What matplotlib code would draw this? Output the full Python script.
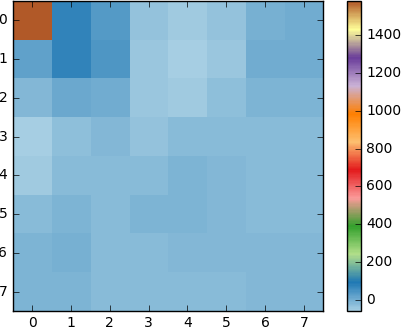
import numpy as np
import matplotlib
matplotlib.use("Agg")
import matplotlib.pyplot as plt
from matplotlib.colors import LinearSegmentedColormap

# values (row by row)
row0 = [1580, 76, 37, -33, -50, -33, -4, 3]
row1 = [22, 76, 42, -39, -58, -40, 3, 3]
row2 = [-19, 9, 3, -40, -50, -30, -10, -10]
row3 = [-58, -30, -16, -36, -24, -20, -20, -20]
row4 = [-50, -24, -20, -22, -7, -16, -22, -22]
row5 = [-22, -10, -20, -13, -7, -16, -22, -22]
row6 = [-7, -2, -20, -20, -16, -16, -16, -16]
row7 = [-10, -10, -20, -20, -22, -22, -16, -16]
cbar_ticks = [0, 200, 400, 600, 800, 1000, 1200, 1400]

data = np.array([row0, row1, row2, row3, row4, row5, row6, row7])

plt.style.use('classic')
plt.rcParams['font.size'] = 10

cmap = LinearSegmentedColormap.from_list('paired_smooth', plt.cm.Paired.colors, N=256)

fig = plt.figure(figsize=(4.01, 3.28), dpi=100)
fig.patch.set_facecolor('white')
ax = fig.add_axes([0.032, 0.052, 0.774, 0.945])
im = ax.imshow(data, cmap=cmap, interpolation='nearest', aspect='auto')
ax.set_xticks(range(8))
ax.set_yticks(range(8))
ax.tick_params(labelsize=10)

cax = fig.add_axes([0.865, 0.052, 0.035, 0.945])
cb = fig.colorbar(im, cax=cax, ticks=cbar_ticks)
cb.ax.tick_params(labelsize=10)

fig.savefig('out.png', dpi=100)
